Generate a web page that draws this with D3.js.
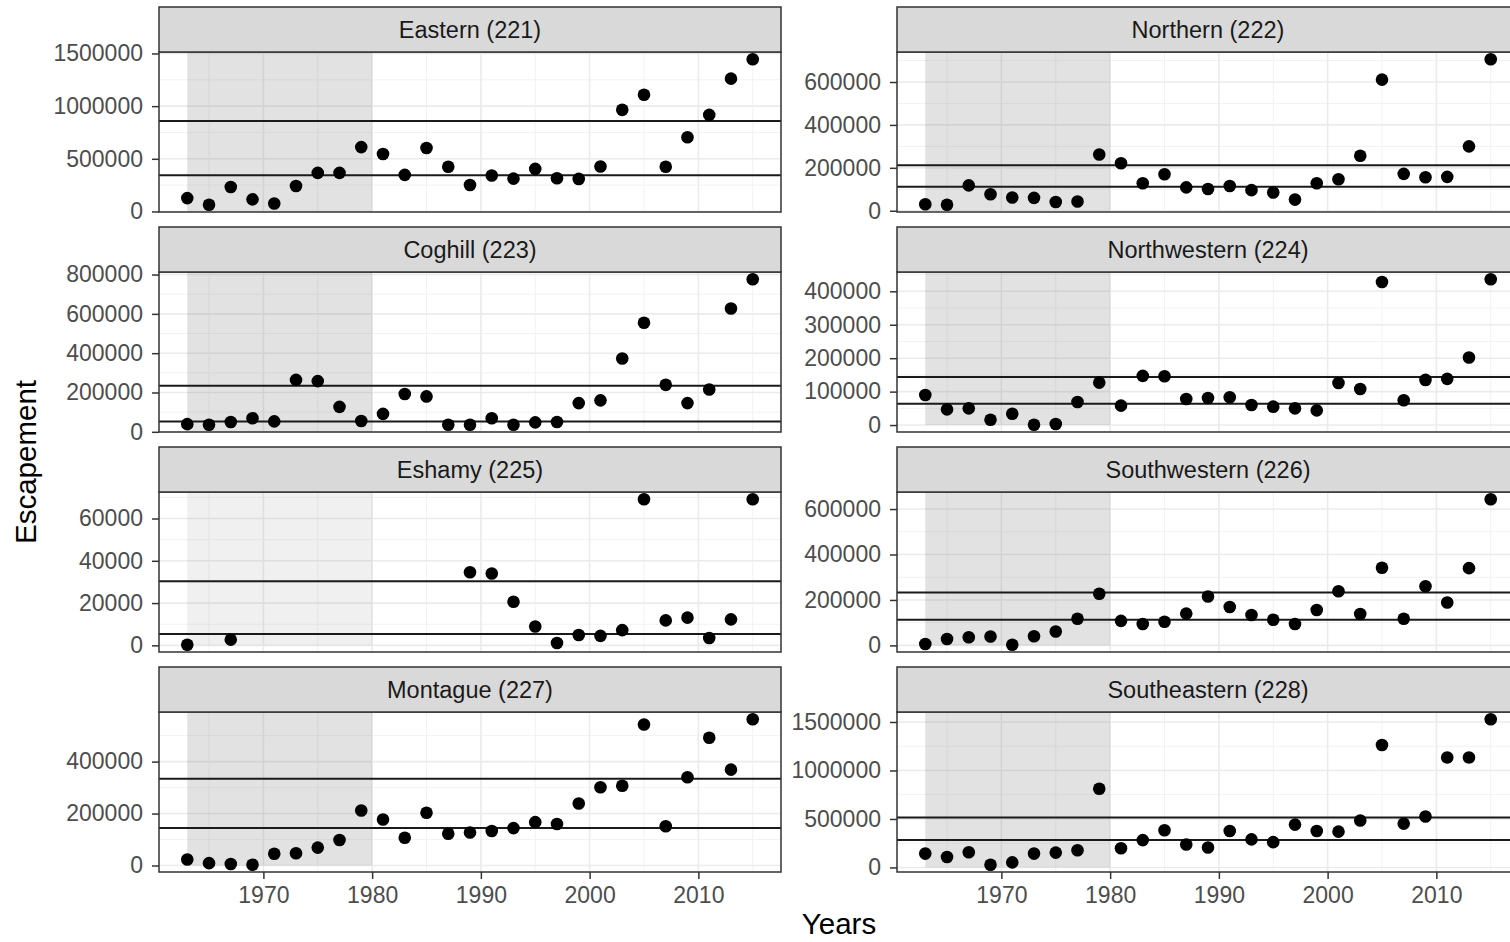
<!DOCTYPE html>
<html>
<head>
<meta charset="utf-8">
<script src="https://cdn.jsdelivr.net/npm/d3@7"></script>
<style>
body { margin: 0; background: #fff; }
svg { display: block; }
text { font-family: "Liberation Sans", Arial, sans-serif; }
</style>
</head>
<body>
<div id="chart"></div>
<script>
var years = [1963,1965,1967,1969,1971,1973,1975,1977,1979,1981,1983,1985,1987,1989,
	1991,1993,1995,1997,1999,2001,2003,2005,2007,2009,2011,2013,2015];

var regions = ["Eastern (221)", "Northern (222)", "Coghill (223)", "Northwestern (224)",
	"Eshamy (225)", "Southwestern (226)", "Montague (227)", "Southeastern (228)"];

var eastern = [127000,64000,232000,115000,76000,242000,366000,366000,611000,545000,347000,602000,424000,252000,
	341000,312000,404000,315000,309000,427000,965000,1108000,424000,704000,917000,1261000,1445000];
var northern = [30000,28000,118000,77000,62000,60000,41000,43000,262000,221000,128000,170000,109000,101000,
	115000,96000,85000,52000,128000,147000,256000,611000,172000,156000,158000,300000,706000];
var coghill = [39000,36000,50000,69000,53000,264000,258000,127000,55000,91000,192000,180000,36000,36000,
	69000,36000,48000,50000,146000,160000,373000,555000,239000,146000,215000,627000,776000];
var northwestern = [90000,47000,50000,16000,34000,1000,3000,69000,127000,58000,147000,146000,78000,81000,
	83000,60000,55000,50000,44000,126000,108000,428000,74000,135000,138000,202000,436000];
var eshamy = [300,null,2700,null,null,null,null,null,null,null,null,null,null,34600,
	34000,20600,8900,1100,4900,4500,7200,69100,11800,13100,3500,12300,69100];
var southwestern = [6000,28000,36000,39000,3000,40000,61000,117000,227000,108000,94000,104000,140000,215000,
	169000,134000,113000,94000,156000,238000,138000,342000,117000,260000,189000,340000,643000];
var montague = [23000,9000,6000,3000,45000,47000,69000,98000,212000,177000,107000,203000,122000,127000,
	133000,144000,167000,160000,239000,301000,307000,543000,151000,340000,492000,369000,563000];
var southeastern = [143000,108000,157000,28000,52000,143000,153000,177000,811000,198000,282000,383000,237000,205000,
	376000,289000,261000,442000,376000,369000,484000,1263000,452000,525000,1134000,1134000,1528000];

var series = [eastern, northern, coghill, northwestern, eshamy, southwestern, montague, southeastern];

// the two horizontal reference lines per panel
var upperRef = [860000, 212000, 234000, 144000, 30300, 233000, 334000, 515000];
var lowerRef = [344000, 112000, 52000, 64000, 5400, 113000, 144000, 282000];

var yTicks = [
	[0, 500000, 1000000, 1500000],
	[0, 200000, 400000, 600000],
	[0, 200000, 400000, 600000, 800000],
	[0, 100000, 200000, 300000, 400000],
	[0, 20000, 40000, 60000],
	[0, 200000, 400000, 600000],
	[0, 200000, 400000],
	[0, 500000, 1000000, 1500000]
];
var xTicks = [1970, 1980, 1990, 2000, 2010];
var xMinor = [1965, 1975, 1985, 1995, 2005, 2015];
var shade = [1963, 1980];

var W = 1510, H = 942;
var colX = [159, 897];
var panelW = 622, panelH = 160, stripH = 45;
var rowTop = 7, rowStep = 220;

var svg = d3.select("#chart").append("svg")
	.attr("width", W)
	.attr("height", H);

var xScale = d3.scaleLinear()
	.domain([1960.4, 2017.6])
	.range([0, panelW]);

regions.forEach(function(name, i) {
	var col = i % 2, row = Math.floor(i / 2);
	var px = colX[col];
	var py = rowTop + row * rowStep + stripH;
	var vals = series[i];

	var pts = years.map(function(y, j) { return { year: y, value: vals[j] }; })
		.filter(function(d) { return d.value != null; });

	var all = pts.map(function(d) { return d.value; }).concat([upperRef[i], lowerRef[i]]);
	var lo = d3.min(all), hi = d3.max(all), pad = (hi - lo) * 0.05;
	var yScale = d3.scaleLinear()
		.domain([lo - pad, hi + pad])
		.range([panelH, 0]);

	var g = svg.append("g")
		.attr("transform", "translate(" + px + "," + py + ")");

	g.append("rect")
		.attr("width", panelW)
		.attr("height", panelH)
		.attr("fill", "#fff");

	// minor grid
	var t = yTicks[i], step = t[1] - t[0];
	var yMinor = [t[0] - step / 2].concat(t.map(function(v) { return v + step / 2; }))
		.filter(function(v) { return v > yScale.domain()[0] && v < yScale.domain()[1]; });

	g.selectAll(".ymin").data(yMinor).enter().append("line")
		.attr("x1", 0).attr("x2", panelW)
		.attr("y1", function(d) { return yScale(d); })
		.attr("y2", function(d) { return yScale(d); })
		.attr("stroke", "#f2f2f2").attr("stroke-width", 1);
	g.selectAll(".xmin").data(xMinor).enter().append("line")
		.attr("y1", 0).attr("y2", panelH)
		.attr("x1", function(d) { return xScale(d); })
		.attr("x2", function(d) { return xScale(d); })
		.attr("stroke", "#f2f2f2").attr("stroke-width", 1);

	// major grid
	g.selectAll(".ymaj").data(t).enter().append("line")
		.attr("x1", 0).attr("x2", panelW)
		.attr("y1", function(d) { return yScale(d); })
		.attr("y2", function(d) { return yScale(d); })
		.attr("stroke", "#ebebeb").attr("stroke-width", 1.6);
	g.selectAll(".xmaj").data(xTicks).enter().append("line")
		.attr("y1", 0).attr("y2", panelH)
		.attr("x1", function(d) { return xScale(d); })
		.attr("x2", function(d) { return xScale(d); })
		.attr("stroke", "#ebebeb").attr("stroke-width", 1.6);

	// shaded period
	g.append("rect")
		.attr("x", xScale(shade[0]))
		.attr("width", xScale(shade[1]) - xScale(shade[0]))
		.attr("y", 0)
		.attr("height", Math.min(panelH, yScale(0)))
		.attr("fill", "#808080")
		.attr("fill-opacity", name.indexOf("Eshamy") == 0 ? 0.12 : 0.23);

	// reference lines
	g.selectAll(".ref").data([upperRef[i], lowerRef[i]]).enter().append("line")
		.attr("x1", 0).attr("x2", panelW)
		.attr("y1", function(d) { return yScale(d); })
		.attr("y2", function(d) { return yScale(d); })
		.attr("stroke", "#1a1a1a").attr("stroke-width", 2);

	g.selectAll(".pt").data(pts).enter().append("circle")
		.attr("cx", function(d) { return xScale(d.year); })
		.attr("cy", function(d) { return yScale(d.value); })
		.attr("r", 6.3)
		.attr("fill", "#000");

	g.append("rect")
		.attr("width", panelW)
		.attr("height", panelH)
		.attr("fill", "none")
		.attr("stroke", "#333")
		.attr("stroke-width", 1.5);

	// y axis
	var yAxis = d3.axisLeft(yScale)
		.tickValues(t)
		.tickFormat(d3.format("d"))
		.tickSizeInner(7)
		.tickSizeOuter(0)
		.tickPadding(9);
	var ya = g.append("g").call(yAxis);
	ya.select(".domain").remove();
	ya.selectAll("line").attr("stroke", "#333").attr("stroke-width", 1.5);
	ya.selectAll("text").attr("fill", "#4d4d4d").style("font-size", "23px");

	// x axis only on the bottom row
	if (row == 3) {
		var xAxis = d3.axisBottom(xScale)
			.tickValues(xTicks)
			.tickFormat(d3.format("d"))
			.tickSizeInner(7)
			.tickSizeOuter(0)
			.tickPadding(8);
		var xa = g.append("g")
			.attr("transform", "translate(0," + panelH + ")")
			.call(xAxis);
		xa.select(".domain").remove();
		xa.selectAll("line").attr("stroke", "#333").attr("stroke-width", 1.5);
		xa.selectAll("text").attr("fill", "#4d4d4d").style("font-size", "23px");
	}

	// strip
	var s = svg.append("g")
		.attr("transform", "translate(" + px + "," + (py - stripH) + ")");
	s.append("rect")
		.attr("width", panelW)
		.attr("height", stripH)
		.attr("fill", "#d9d9d9")
		.attr("stroke", "#333")
		.attr("stroke-width", 1.5);
	s.append("text")
		.attr("x", panelW / 2)
		.attr("y", stripH / 2)
		.attr("dy", "0.35em")
		.attr("text-anchor", "middle")
		.attr("fill", "#1a1a1a")
		.style("font-size", "23.5px")
		.text(name);
});

svg.append("text")
	.attr("transform", "translate(36,462) rotate(-90)")
	.attr("text-anchor", "middle")
	.attr("fill", "#000")
	.style("font-size", "29.5px")
	.text("Escapement");

svg.append("text")
	.attr("x", 839)
	.attr("y", 934)
	.attr("text-anchor", "middle")
	.attr("fill", "#000")
	.style("font-size", "29.5px")
	.text("Years");
</script>
</body>
</html>
